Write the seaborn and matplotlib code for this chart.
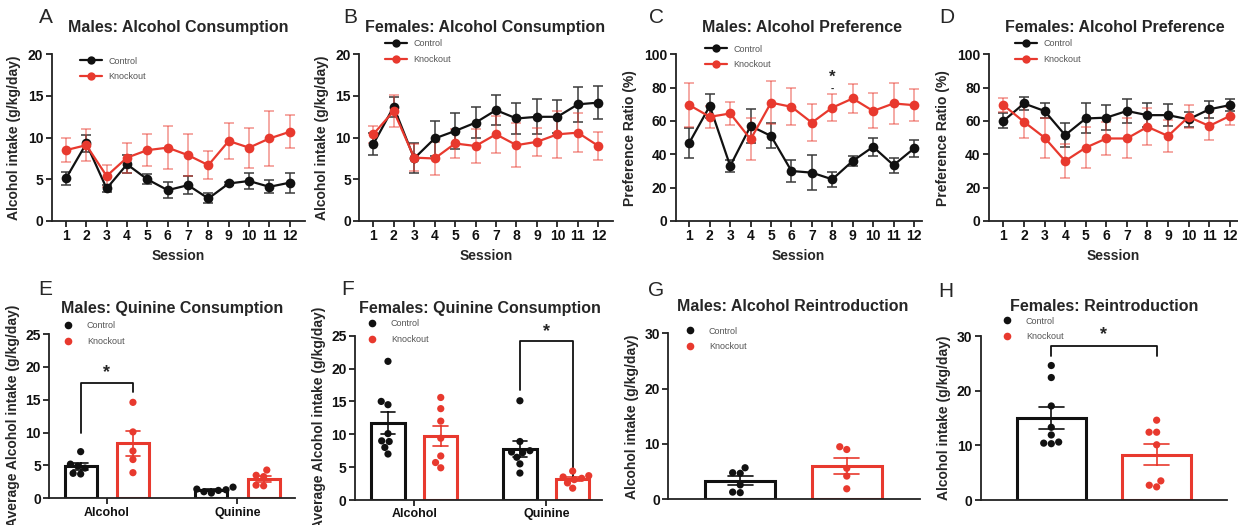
import numpy as np
import pandas as pd
import matplotlib
matplotlib.use("Agg")
import matplotlib.pyplot as plt
from matplotlib.lines import Line2D
import seaborn as sns

sns.set_style("ticks")
plt.rcParams["font.family"] = ["Liberation Sans", "DejaVu Sans"]
plt.rcParams["font.weight"] = "bold"
plt.rcParams["axes.labelweight"] = "bold"

W, H = 1238, 525
BLACK = "#111111"
RED = "#e8392e"
groups = ["Control", "Knockout"]
pal = {"Control": BLACK, "Knockout": RED}

sessions = list(range(1, 13))

# A: males, alcohol consumption (mean, SEM)
a_ctrl = [5.1, 9.3, 3.9, 6.8, 5.0, 3.7, 4.3, 2.7, 4.5, 4.8, 4.1, 4.6]
a_ctrl_sem = [0.8, 1.0, 0.4, 1.1, 0.6, 1.0, 1.1, 0.6, 0.2, 1.0, 0.8, 1.2]
a_ko = [8.5, 9.1, 5.4, 7.6, 8.5, 8.8, 7.9, 6.7, 9.6, 8.8, 9.9, 10.7]
a_ko_sem = [1.4, 1.9, 1.3, 1.8, 1.9, 2.6, 2.5, 1.7, 2.2, 2.4, 3.3, 2.0]

# B: females, alcohol consumption
b_ctrl = [9.2, 13.7, 7.5, 9.9, 10.8, 11.8, 13.3, 12.3, 12.5, 12.5, 14.0, 14.2]
b_ctrl_sem = [1.3, 1.2, 1.8, 2.1, 2.2, 1.9, 1.8, 1.9, 2.1, 2.0, 2.1, 2.0]
b_ko = [10.4, 13.2, 7.6, 7.5, 9.3, 9.0, 10.4, 9.1, 9.5, 10.4, 10.6, 9.0]
b_ko_sem = [1.0, 1.9, 1.6, 2.0, 1.7, 2.0, 2.2, 2.6, 1.7, 2.8, 2.3, 1.7]

# C: males, alcohol preference
c_ctrl = [47, 69, 33, 57, 51, 30, 29, 25, 36, 44.5, 33.5, 43.5]
c_ctrl_sem = [9, 7, 3.5, 10, 7.5, 6.5, 10.5, 4.5, 3, 5.5, 4.5, 5]
c_ko = [69.5, 62.5, 64.5, 49, 71, 68.5, 59, 68, 73.5, 66, 70.5, 69.5]
c_ko_sem = [13, 6.5, 7, 12.5, 13, 11, 11, 8, 8.5, 10.5, 12.5, 9.5]

# D: females, alcohol preference
d_ctrl = [60, 70.5, 66, 51.5, 61.5, 62, 66, 63.5, 63.5, 61, 67, 69.5]
d_ctrl_sem = [4.5, 4, 4.5, 7, 9, 7.5, 7, 7, 6.5, 4.5, 5, 3.5]
d_ko = [69.5, 59.5, 50, 36, 44, 49.5, 49.5, 56.5, 51, 62.5, 57, 63]
d_ko_sem = [4, 9.5, 12, 10, 12.5, 10, 12, 11, 9.5, 7, 8.5, 5.5]

# E: males, quinine test (individual animals)
drinks = ["Alcohol", "Quinine"]
e_alc_ctrl = [7.1, 5.2, 4.9, 4.6, 3.8, 3.7]
e_alc_ko = [14.6, 10.1, 7.2, 5.9, 3.9]
e_qui_ctrl = [1.7, 1.4, 1.3, 1.2, 1.0, 0.8]
e_qui_ko = [4.3, 3.5, 3.3, 2.0, 1.9]

# F: females, quinine test
f_alc_ctrl = [21.1, 15.0, 14.5, 10.1, 9.0, 8.9, 8.0, 7.0]
f_alc_ko = [15.6, 13.9, 12.0, 9.4, 6.7, 5.7, 4.9]
f_qui_ctrl = [15.1, 8.9, 7.5, 7.3, 7.2, 6.5, 5.5, 4.1]
f_qui_ko = [4.4, 3.7, 3.5, 3.3, 3.1, 2.6, 1.8]

# G / H: reintroduction
g_ctrl = [5.7, 4.8, 4.7, 2.6, 1.3, 1.2]
g_ko = [9.5, 9.0, 5.6, 4.2, 1.9]
h_ctrl = [24.6, 22.4, 17.2, 13.3, 11.9, 10.6, 10.4, 10.3]
h_ko = [14.6, 12.4, 12.4, 10.1, 3.5, 2.7, 2.4]

fig = plt.figure(figsize=(W / 100, H / 100), dpi=100)


def add_ax(l, t, r, b):
    return fig.add_axes([l / W, 1 - b / H, (r - l) / W, (b - t) / H])


def style_ax(ax, ylim, yticks):
    ax.set_ylim(*ylim)
    ax.set_yticks(yticks)
    sns.despine(ax=ax)
    for s in ["left", "bottom"]:
        ax.spines[s].set_linewidth(1.3)
        ax.spines[s].set_color("#222222")
    ax.tick_params(direction="out", length=4, width=1.3, color="#222222",
                   labelsize=10, pad=2, labelcolor="#111111")


def place_legend(ax, handles, hx, hy, hl, tp):
    ax.legend(handles, groups, loc="upper left",
              bbox_to_anchor=(hx / W, 1 - (hy - 5.5) / H),
              bbox_transform=fig.transFigure, frameon=False, borderpad=0,
              borderaxespad=0, handlelength=hl, handletextpad=tp,
              labelspacing=0.75, prop={"size": 6.5, "weight": "normal"},
              labelcolor="#555555")


def line_panel(ax, ctrl, ctrl_sem, ko, ko_sem):
    df = pd.DataFrame({"session": sessions + sessions,
                       "value": ctrl + ko,
                       "group": ["Control"] * 12 + ["Knockout"] * 12})
    ax.errorbar(sessions, ctrl, yerr=ctrl_sem, fmt="none", ecolor="#3a3a3a",
                elinewidth=1.1, capsize=3.5, capthick=1.1, zorder=1.5)
    ax.errorbar(sessions, ko, yerr=ko_sem, fmt="none", ecolor=RED, alpha=0.55,
                elinewidth=1.1, capsize=3.5, capthick=1.1, zorder=1.5)
    sns.lineplot(data=df, x="session", y="value", hue="group", hue_order=groups,
                 palette=pal, style="group", markers={"Control": "o", "Knockout": "o"},
                 dashes=False, markersize=7, markeredgewidth=0, linewidth=1.6,
                 legend=False, ax=ax)
    ax.set_xticks(sessions)
    ax.set_xlabel("Session", fontsize=10, labelpad=4)


def bar_panel(ax, df, xcol, order, gap, capsize):
    sns.barplot(data=df, x=xcol, y="value", hue="group", order=order,
                hue_order=groups, palette=pal, fill=False, errorbar="se",
                capsize=capsize, width=0.8, gap=gap, linewidth=2.2,
                err_kws={"linewidth": 1.2}, legend=False, ax=ax)
    sns.swarmplot(data=df, x=xcol, y="value", hue="group", order=order,
                  hue_order=groups, palette=pal, dodge=True, size=5.2,
                  legend=False, ax=ax, zorder=3)
    ax.set_xlabel("")


def long_df(col, cats, ctrl_lists, ko_lists):
    rows = []
    for cat, c, k in zip(cats, ctrl_lists, ko_lists):
        rows += [(cat, "Control", v) for v in c]
        rows += [(cat, "Knockout", v) for v in k]
    return pd.DataFrame(rows, columns=[col, "group", "value"])


line_handles = [Line2D([0], [0], color=pal[g], marker="o", lw=1.6, markersize=6,
                       markeredgewidth=0) for g in groups]
dot_handles = [Line2D([0], [0], color=pal[g], marker="o", ls="none", markersize=5.5,
                      markeredgewidth=0) for g in groups]

# ---- top row: line plots ----
top = [
    ("A", "Males: Alcohol Consumption", (51.7, 305), (0.3, 12.75), a_ctrl, a_ctrl_sem, a_ko, a_ko_sem,
     (0, 20), [0, 5, 10, 15, 20], "Alcohol intake (g/kg/day)", 46, 178, (80, 62)),
    ("B", "Females: Alcohol Consumption", (359.3, 613.3), (0.32, 12.73), b_ctrl, b_ctrl_sem, b_ko, b_ko_sem,
     (0, 20), [0, 5, 10, 15, 20], "Alcohol intake (g/kg/day)", 350, 485, (385, 45)),
    ("C", "Males: Alcohol Preference", (675.7, 921.7), (0.33, 12.38), c_ctrl, c_ctrl_sem, c_ko, c_ko_sem,
     (0, 100), [0, 20, 40, 60, 80, 100], "Preference Ratio (%)", 656, 802, (705, 50)),
    ("D", "Females: Alcohol Preference", (989, 1238), (0.3, 12.4), d_ctrl, d_ctrl_sem, d_ko, d_ko_sem,
     (0, 100), [0, 20, 40, 60, 80, 100], "Preference Ratio (%)", 947, 1115, (1015, 45)),
]
for (letter, title, (l, r), xlim, ct, cs, ko, ks, ylim, yt, ylab, lx, tx, (hx, hy)) in top:
    ax = add_ax(l, 54.3, r, 221)
    line_panel(ax, ct, cs, ko, ks)
    style_ax(ax, ylim, yt)
    ax.set_xlim(*xlim)
    ax.set_ylabel(ylab, fontsize=10, labelpad=5)
    place_legend(ax, line_handles, hx, hy, 2.4, 0.75)
    fig.text(lx / W, 1 - 23 / H, letter, fontsize=15, fontweight="normal", ha="center", va="baseline")
    fig.text(tx / W, 1 - 32 / H, title, fontsize=11.5, ha="center", va="baseline")
    if letter == "C":
        ax.text(8, 86, "*", ha="center", va="center", fontsize=12)
        ax.text(8, 79.5, "-", ha="center", va="center", fontsize=7)

# ---- bottom row: bar + dot plots ----
e_df = long_df("drink", drinks, [e_alc_ctrl, e_qui_ctrl], [e_alc_ko, e_qui_ko])
f_df = long_df("drink", drinks, [f_alc_ctrl, f_qui_ctrl], [f_alc_ko, f_qui_ko])
g_df = long_df("phase", ["Reintroduction"], [g_ctrl], [g_ko])
h_df = long_df("phase", ["Reintroduction"], [h_ctrl], [h_ko])

ax = add_ax(49.3, 334, 295, 498.3)
bar_panel(ax, e_df, "drink", drinks, 0.39, 0.22)
style_ax(ax, (0, 25), [0, 5, 10, 15, 20, 25])
ax.set_xlim(-0.44, 1.44)
ax.tick_params(axis="x", labelsize=9)
ax.set_ylabel("Average Alcohol intake (g/kg/day)", fontsize=10, labelpad=4)
place_legend(ax, dot_handles, 63.5, 327, 1.0, 1.6)
ax.plot([-0.2, -0.2, 0.2, 0.2], [9.9, 17.5, 17.5, 16.1], color=BLACK, lw=1.3, clip_on=False)
ax.text(0, 19.2, "*", ha="center", va="center", fontsize=13)
fig.text(45 / W, 1 - 295 / H, "E", fontsize=15, fontweight="normal", ha="center", va="baseline")
fig.text(172 / W, 1 - 313 / H, "Males: Quinine Consumption", fontsize=11.5, ha="center", va="baseline")

ax = add_ax(355, 335.7, 601.7, 500)
bar_panel(ax, f_df, "drink", drinks, 0.37, 0.22)
style_ax(ax, (0, 25), [0, 5, 10, 15, 20, 25])
ax.set_xlim(-0.45, 1.42)
ax.tick_params(axis="x", labelsize=9)
ax.set_ylabel("Average Alcohol intake (g/kg/day)", fontsize=10, labelpad=4)
place_legend(ax, dot_handles, 367.5, 325, 1.0, 1.6)
ax.plot([0.8, 0.8, 1.2, 1.2], [16.7, 24.2, 24.2, 3.5], color=BLACK, lw=1.3, clip_on=False)
ax.text(1.0, 25.7, "*", ha="center", va="center", fontsize=13)
fig.text(348 / W, 1 - 295 / H, "F", fontsize=15, fontweight="normal", ha="center", va="baseline")
fig.text(480 / W, 1 - 313 / H, "Females: Quinine Consumption", fontsize=11.5, ha="center", va="baseline")

ax = add_ax(668.3, 333.3, 920, 499.3)
bar_panel(ax, g_df, "phase", ["Reintroduction"], 0.34, 0.19)
style_ax(ax, (0, 30), [0, 10, 20, 30])
ax.set_xlim(-0.47, 0.475)
ax.set_xticks([])
ax.set_ylabel("Alcohol intake (g/kg/day)", fontsize=10, labelpad=4)
place_legend(ax, dot_handles, 685.5, 332, 1.0, 1.6)
fig.text(656 / W, 1 - 296 / H, "G", fontsize=15, fontweight="normal", ha="center", va="baseline")
fig.text(793 / W, 1 - 311 / H, "Males: Alcohol Reintroduction", fontsize=11.5, ha="center", va="baseline")

ax = add_ax(980.7, 336, 1226.7, 500)
bar_panel(ax, h_df, "phase", ["Reintroduction"], 0.34, 0.19)
style_ax(ax, (0, 30), [0, 10, 20, 30])
ax.set_xlim(-0.468, 0.466)
ax.set_xticks([])
ax.set_ylabel("Alcohol intake (g/kg/day)", fontsize=10, labelpad=4)
place_legend(ax, dot_handles, 1002.5, 322, 1.0, 1.6)
ax.plot([-0.2, -0.2, 0.2, 0.2], [26.4, 28.2, 28.2, 26.4], color=BLACK, lw=1.3, clip_on=False)
ax.text(0, 30.3, "*", ha="center", va="center", fontsize=13)
fig.text(946 / W, 1 - 297 / H, "H", fontsize=15, fontweight="normal", ha="center", va="baseline")
fig.text(1104 / W, 1 - 311 / H, "Females: Reintroduction", fontsize=11.5, ha="center", va="baseline")

fig.savefig("out.png", dpi=100)
